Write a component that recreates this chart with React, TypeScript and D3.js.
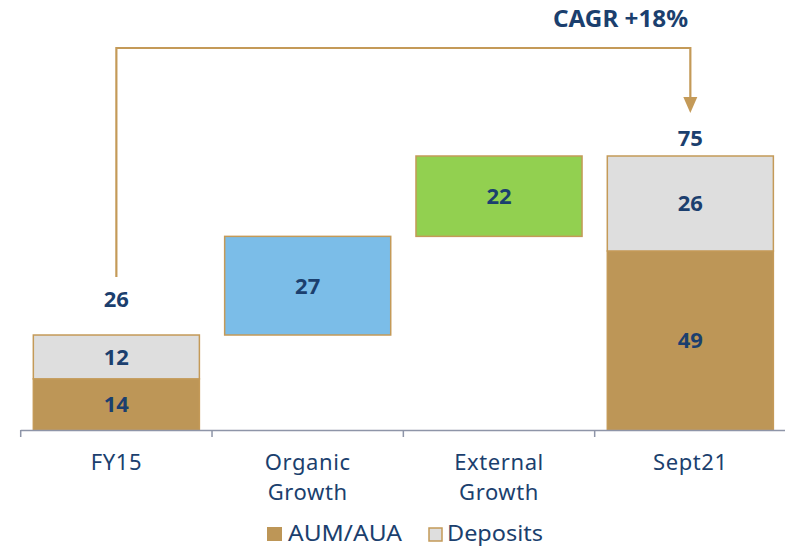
import React from "react";
import * as d3 from "d3";

const categories = ["FY15", "Organic Growth", "External Growth", "Sept21"];
const categoryLines = [["FY15"], ["Organic", "Growth"], ["External", "Growth"], ["Sept21"]];
const aumValues = [14, 0, 0, 49];
const depositValues = [12, 0, 0, 26];
const organicGrowth = 27;
const externalGrowth = 22;
const totals = [26, 75];
const cagrLabel = "CAGR +18%";
const legendItems = ["AUM/AUA", "Deposits"];

const W = 785;
const H = 548;
const GOLD = "#BD9657";
const GOLD_STROKE = "#C49A58";
const GREY = "#DEDEDE";
const BLUE = "#7BBDE8";
const GREEN = "#92D050";
const NAVY = "#1B3F6E";
const AXIS = "#8E95A8";
const FONT = "'Noto Sans', sans-serif";

export default function App() {
  const x = d3.scaleBand<string>().domain(categories).range([20.7, 786]).paddingInner(0.132).paddingOuter(0.066);
  const y = d3.scaleLinear().domain([0, 75]).range([430, 156]);
  const bw = x.bandwidth();
  const step = x.step();

  type Seg = { cat: string; y0: number; y1: number; fill: string; label: string };
  const segs: Seg[] = [];
  segs.push({ cat: categories[0], y0: 0, y1: aumValues[0], fill: GOLD, label: String(aumValues[0]) });
  segs.push({ cat: categories[0], y0: aumValues[0], y1: aumValues[0] + depositValues[0], fill: GREY, label: String(depositValues[0]) });
  const start = aumValues[0] + depositValues[0];
  segs.push({ cat: categories[1], y0: start, y1: start + organicGrowth, fill: BLUE, label: String(organicGrowth) });
  segs.push({ cat: categories[2], y0: start + organicGrowth, y1: start + organicGrowth + externalGrowth, fill: GREEN, label: String(externalGrowth) });
  segs.push({ cat: categories[3], y0: 0, y1: aumValues[3], fill: GOLD, label: String(aumValues[3]) });
  segs.push({ cat: categories[3], y0: aumValues[3], y1: aumValues[3] + depositValues[3], fill: GREY, label: String(depositValues[3]) });

  const cx0 = (x(categories[0]) as number) + bw / 2;
  const cx3 = (x(categories[3]) as number) + bw / 2;
  const arrowTop = 48;
  const arrowStartY = y(totals[0]) - 58;
  const arrowTipY = y(totals[1]) - 43;

  const tickXs = categories.map((c) => (x(c) as number) - (step * 0.132) / 2);
  tickXs.push(tickXs[3] + step);

  return (
    <svg width={W} height={H} style={{ position: "absolute", left: 0, top: 0 }} fontFamily={FONT}>
      <rect width={W} height={H} fill="#fff" />
      {segs.map((s, i) => {
        const x0 = x(s.cat) as number;
        const top = y(s.y1);
        const bot = y(s.y0);
        return (
          <g key={i}>
            <rect x={x0} y={top} width={bw} height={bot - top} fill={s.fill} stroke={GOLD_STROKE} strokeWidth={1.5} />
            <text x={x0 + bw / 2} y={(top + bot) / 2 + 8} textAnchor="middle" fontSize={22} fontWeight={700} fill={NAVY}>
              {s.label}
            </text>
          </g>
        );
      })}
      <text x={cx0} y={y(totals[0]) - 28} textAnchor="middle" fontSize={22} fontWeight={700} fill={NAVY}>
        {totals[0]}
      </text>
      <text x={cx3} y={y(totals[1]) - 10} textAnchor="middle" fontSize={22} fontWeight={700} fill={NAVY}>
        {totals[1]}
      </text>
      <path
        d={`M${cx0},${arrowStartY} L${cx0},${arrowTop} L${cx3},${arrowTop} L${cx3},${arrowTipY - 15}`}
        fill="none"
        stroke={GOLD_STROKE}
        strokeWidth={2.2}
      />
      <path d={`M${cx3 - 7},${arrowTipY - 16} L${cx3 + 7},${arrowTipY - 16} L${cx3},${arrowTipY} Z`} fill={GOLD_STROKE} />
      <text x={553} y={27} fontSize={23} fontWeight={700} fill={NAVY} textLength={135} lengthAdjust="spacingAndGlyphs">
        {cagrLabel}
      </text>
      <line x1={tickXs[0]} x2={W} y1={430.5} y2={430.5} stroke={AXIS} strokeWidth={1.5} />
      {tickXs.map((tx, i) => (
        <line key={i} x1={tx} x2={tx} y1={430} y2={437} stroke={AXIS} strokeWidth={1.5} />
      ))}
      {categories.map((c, i) =>
        categoryLines[i].map((ln, j) => (
          <text key={c + j} x={(x(c) as number) + bw / 2} y={470 + j * 30} textAnchor="middle" fontSize={22} fill={NAVY}
            letterSpacing={0.6}>
            {ln}
          </text>
        ))
      )}
      <rect x={267} y={527} width={15} height={14} fill={GOLD} />
      <text x={288} y={541} fontSize={21} fill={NAVY} textLength={114} lengthAdjust="spacingAndGlyphs">{legendItems[0]}</text>
      <rect x={429} y={528} width={13} height={13} fill={GREY} stroke={GOLD_STROKE} strokeWidth={1.5} />
      <text x={447} y={541} fontSize={21} fill={NAVY} textLength={96} lengthAdjust="spacingAndGlyphs">{legendItems[1]}</text>
    </svg>
  );
}
